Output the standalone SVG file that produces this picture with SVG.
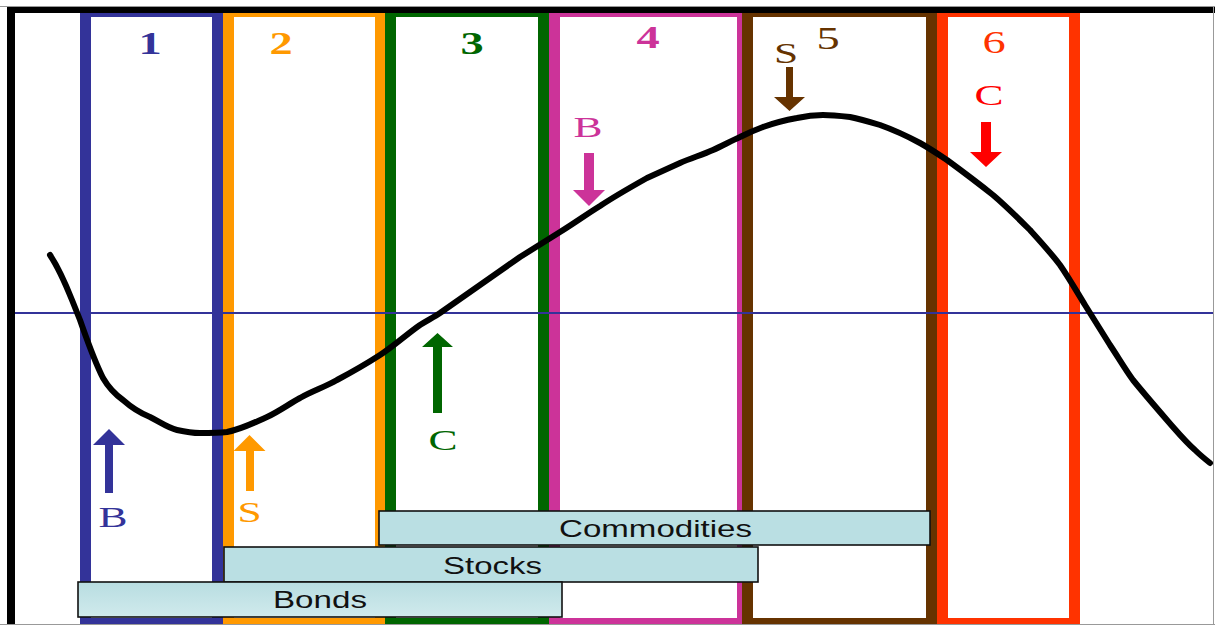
<svg xmlns="http://www.w3.org/2000/svg" width="1215" height="625" viewBox="0 0 1215 625">
<style>
.col{fill:none;stroke-width:11}
.box{stroke:#111;stroke-width:1.6}
.lbl{font-family:"Liberation Sans",Arial,sans-serif;font-size:24px;fill:#111}
.ser{font-family:"Liberation Serif","Times New Roman",serif;font-size:30px;text-anchor:middle}
.num{font-family:"Liberation Serif","Times New Roman",serif;font-size:32px;text-anchor:middle}
.b{font-weight:bold}
</style>
<defs>
<linearGradient id="gb" x1="0" y1="0" x2="0" y2="1">
<stop offset="0" stop-color="#B8DDE1"/>
<stop offset="1" stop-color="#D0EAEC"/>
</linearGradient>
</defs>
<rect x="0" y="0" width="1215" height="625" fill="#fff"/>
<g id="columns">
<rect id="col1" class="col" x="85.5" y="11.5" width="132" height="612" stroke="#333399"/>
<rect id="col2" class="col" x="228.5" y="11.5" width="152" height="612" stroke="#FF9900"/>
<rect id="col3" class="col" x="390.5" y="11.5" width="153" height="612" stroke="#006600"/>
<rect id="col4" class="col" x="554.5" y="11.5" width="188" height="612" stroke="#CC3399"/>
<rect id="col5" class="col" x="747.5" y="11.5" width="184" height="612" stroke="#663300"/>
<rect id="col6" class="col" x="942.5" y="11.5" width="132" height="612" stroke="#FF3300"/>
</g>
<g id="frame">
<line x1="0" y1="6.5" x2="1215" y2="6.5" stroke="#999" stroke-width="1"/>
<line x1="7" y1="10" x2="1215" y2="10" stroke="#000" stroke-width="6"/>
<line x1="11" y1="7" x2="11" y2="625" stroke="#000" stroke-width="8"/>
<line x1="1213.5" y1="7" x2="1213.5" y2="625" stroke="#999" stroke-width="1"/>
<line x1="0" y1="624.5" x2="1215" y2="624.5" stroke="#999" stroke-width="1"/>
</g>
<g id="axis">
<line x1="15" y1="313" x2="1213" y2="313" stroke="#333399" stroke-width="2"/>
</g>
<g id="curve">
<path d="M50,255 C56,264 66,285 72,300 C76,310 78,315 80,320 C84,331 93,358 103,378 C110,390 116,395 123,400 C132,408 140,413 150,417 C160,422 168,428 177,430 C186,432 193,433 200,433 C210,433 218,433 227,432 C242,429 253,423 267,417 C278,412 289,404 300,398 C312,391 325,387 337,380 C352,372 366,364 380,355 C394,346 407,334 420,325 C428,320 434,317 440,313 C453,304 467,294 480,285 C493,276 507,266 520,257 C533,249 547,240 560,232 C573,224 587,214 600,206 C615,196 631,187 647,178 C658,173 669,168 680,163 C691,158 702,155 713,150 C722,146 731,141 740,137 C748,133 755,130 763,127 C774,123 786,120 797,118 C806,116 815,115 823,115 C832,115 841,116 850,117 C860,119 870,122 880,125 C894,130 907,136 920,143 C929,148 938,154 947,160 C962,171 978,183 993,195 C1006,206 1018,218 1030,230 C1040,241 1051,253 1060,265 C1069,278 1077,292 1085,305 C1093,318 1102,332 1110,345 C1118,357 1125,369 1133,380 C1146,396 1160,412 1173,427 C1180,435 1188,444 1195,450 C1200,455 1205,459 1210,463" fill="none" stroke="#000" stroke-width="6" stroke-linejoin="round" stroke-linecap="round"/>
</g>
<g id="bars">
<g id="commodities">
<rect class="box" x="379" y="511" width="551" height="34" fill="#BADFE3"/>
<text class="lbl" x="559" y="537" textLength="193" lengthAdjust="spacingAndGlyphs">Commodities</text>
</g>
<g id="stocks">
<rect class="box" x="224" y="547" width="534" height="35" fill="#BADFE3"/>
<text class="lbl" x="443" y="574" textLength="99" lengthAdjust="spacingAndGlyphs">Stocks</text>
</g>
<g id="bonds">
<rect class="box" x="78" y="582" width="484" height="35" fill="url(#gb)"/>
<text class="lbl" x="273" y="608" textLength="94" lengthAdjust="spacingAndGlyphs">Bonds</text>
</g>
</g>
<g id="numbers">
<text class="num b" transform="translate(150,54) scale(1.45,1)" fill="#333399">1</text>
<text class="num b" transform="translate(281,54) scale(1.45,1)" fill="#FF9900">2</text>
<text class="num b" transform="translate(472,54) scale(1.45,1)" fill="#006600">3</text>
<text class="num b" transform="translate(648,48) scale(1.45,1)" fill="#CC3399">4</text>
<text class="num" transform="translate(828,49) scale(1.45,1)" fill="#663300">5</text>
<text class="num" transform="translate(994,53) scale(1.45,1)" fill="#FF3300">6</text>
</g>
<g id="arrows">
<g id="arrow-b-blue">
<polygon points="109,429 125,445 113,445 113,493 105,493 105,445 93,445" fill="#333399"/>
<text class="ser" transform="translate(113,527) scale(1.45,1)" fill="#333399">B</text>
</g>
<g id="arrow-s-orange">
<polygon points="249.5,435 265.5,451 254,451 254,491 246,491 246,451 233.5,451" fill="#FF9900"/>
<text class="ser" transform="translate(249.5,522) scale(1.45,1)" fill="#FF9900">S</text>
</g>
<g id="arrow-c-green">
<polygon points="437.5,333 453,347 442,347 442,413 433,413 433,347 422,347" fill="#006600"/>
<text class="ser" transform="translate(443,450) scale(1.45,1)" fill="#006600">C</text>
</g>
<g id="arrow-b-pink">
<polygon points="584,153 594,153 594,190 605,190 589,206 573,190 584,190" fill="#CC3399"/>
<text class="ser" transform="translate(588,137) scale(1.45,1)" fill="#CC3399">B</text>
</g>
<g id="arrow-s-brown">
<polygon points="786,67 793,67 793,97 805,97 789.5,111 774,97 786,97" fill="#663300"/>
<text class="ser" transform="translate(786,63) scale(1.45,1)" fill="#663300">S</text>
</g>
<g id="arrow-c-red">
<polygon points="981,122 991,122 991,152 1002,152 986,167 970,152 981,152" fill="#FF0000"/>
<text class="ser" transform="translate(989,105) scale(1.45,1)" fill="#FF0000">C</text>
</g>
</g>
</svg>
